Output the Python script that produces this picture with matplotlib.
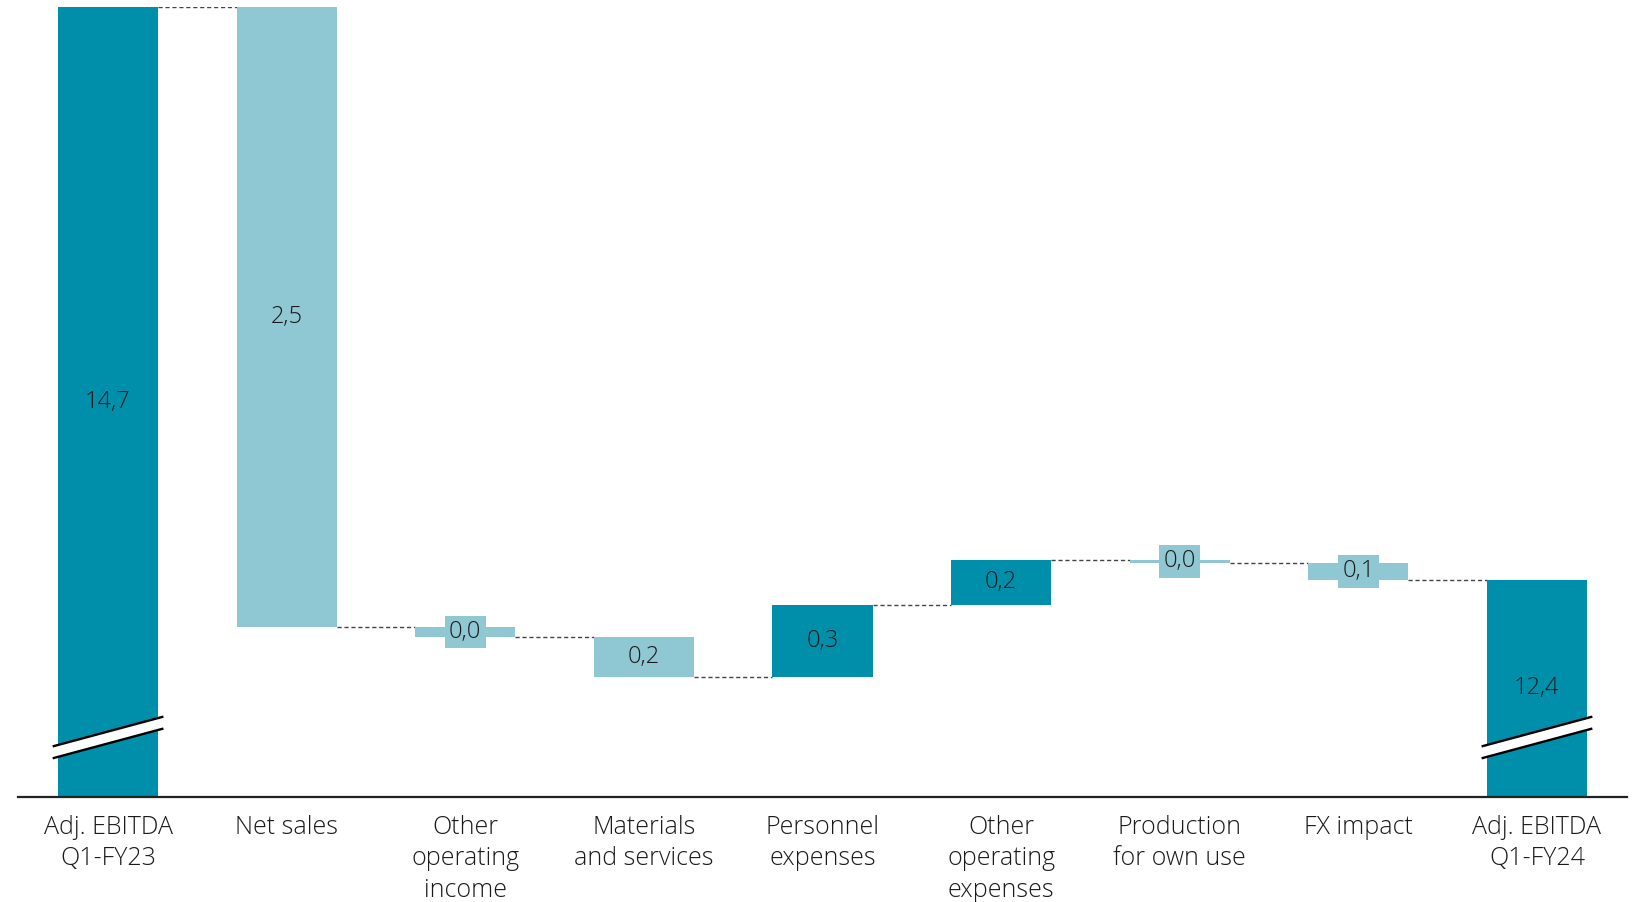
import matplotlib
matplotlib.use("Agg")
import matplotlib.pyplot as plt
from matplotlib.patches import Polygon

# EBITDA bridge, EUR m
categories = ["Adj. EBITDA\nQ1-FY23", "Net sales", "Other\noperating\nincome",
              "Materials\nand services", "Personnel\nexpenses", "Other\noperating\nexpenses",
              "Production\nfor own use", "FX impact", "Adj. EBITDA\nQ1-FY24"]
start_value = 14.7
deltas = [-2.50, -0.04, -0.16, 0.29, 0.18, -0.01, -0.07]

DARK = "#008FAA"
LIGHT = "#8FC7D3"
TEXT = "#1a1a1a"

plt.rcParams["font.family"] = ["Open Sans", "DejaVu Sans"]

y_floor = 11.515
y_top = 14.7
break_y = 11.755

# running totals for the floating bars
bottoms, heights, colors = [], [], []
level = start_value
bottoms.append(y_floor); heights.append(start_value - y_floor); colors.append(DARK)
levels = [start_value]
for d in deltas:
    new = level + d
    bottoms.append(min(level, new))
    heights.append(abs(d))
    colors.append(DARK if d > 0 else LIGHT)
    level = new
    levels.append(level)
end_value = level
bottoms.append(y_floor); heights.append(end_value - y_floor); colors.append(DARK)
values = [start_value] + [abs(d) for d in deltas] + [end_value]

fig = plt.figure(figsize=(16.35, 9.02), dpi=100)
ax = fig.add_axes([18 / 1635, 1 - 797 / 902, 1609 / 1635, 790 / 902])

x = list(range(len(categories)))
w = 0.56
ax.bar(x, heights, bottom=bottoms, width=w, color=colors, linewidth=0, zorder=2)

# dashed connectors between neighbouring bars
for i, lv in enumerate(levels):
    ax.plot([i + w / 2, i + 1 - w / 2], [lv, lv], color="#444444", lw=1,
            dashes=(3, 2), zorder=1)

# value labels in the middle of each bar
for i in x:
    mid = bottoms[i] + heights[i] / 2
    ax.text(i, mid, f"{values[i]:.1f}".replace(".", ","), ha="center", va="center",
            fontsize=17, color=TEXT, fontweight="light", zorder=4,
            bbox=dict(facecolor=colors[i], edgecolor="none", pad=3))

# axis-break marks on the two total bars
dx, dy, gap = 0.31, 0.06, 0.048
for i in (0, len(categories) - 1):
    poly = Polygon([(i - dx, break_y - dy - gap / 2), (i + dx, break_y + dy - gap / 2),
                    (i + dx, break_y + dy + gap / 2), (i - dx, break_y - dy + gap / 2)],
                   closed=True, facecolor="white", edgecolor="none", zorder=3, clip_on=False)
    ax.add_patch(poly)
    for s in (-1, 1):
        ax.plot([i - dx, i + dx], [break_y - dy + s * gap / 2, break_y + dy + s * gap / 2],
                color="black", lw=1.7, zorder=4, solid_capstyle="butt", clip_on=False)

ax.set_xlim(-0.504, 8.504)
ax.set_ylim(y_floor, y_top)
ax.set_xticks(x)
ax.set_xticklabels(categories, fontsize=18, color=TEXT, fontweight="light", linespacing=1.33)
ax.tick_params(axis="x", length=0, pad=13)
ax.set_yticks([])
for side in ("top", "left", "right"):
    ax.spines[side].set_visible(False)
ax.spines["bottom"].set_linewidth(1.6)
ax.spines["bottom"].set_color("#222222")

fig.savefig("out.png", dpi=100)
